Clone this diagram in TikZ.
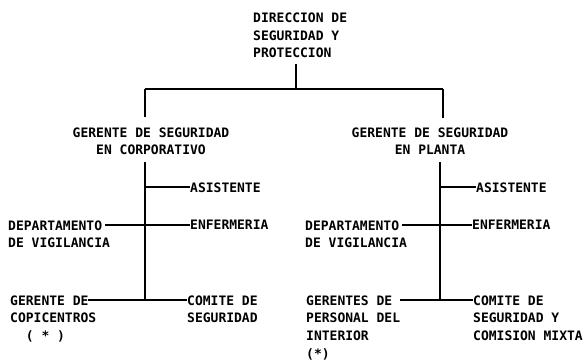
\documentclass[tikz,border=0pt]{standalone}
\usepackage{fontspec}
\setmonofont{DejaVu Sans Mono}
\usepackage{tikz}
\tikzstyle{none}=[inner sep=0pt]
\tikzstyle{label}=[inner sep=0pt,anchor=north west,align=left,font=\ttfamily\bfseries\fontsize{13}{17.7}\selectfont]
\tikzstyle{title}=[label,anchor=north,align=center]
\tikzstyle{simple}=[-,draw=black,line width=2.2pt]

\begin{document}
\begin{tikzpicture}[x=1pt,y=-1pt]
  \useasboundingbox (0,0) rectangle (585,363);
  \node [style=label] (0) at (253, 12.5) {DIRECCION DE\\SEGURIDAD Y\\PROTECCION};
  \node [style=title] (1) at (151, 127.3) {GERENTE DE SEGURIDAD\\EN CORPORATIVO};
  \node [style=title] (2) at (430, 127.3) {GERENTE DE SEGURIDAD\\EN PLANTA};
  \node [style=label] (3) at (190, 182.3) {ASISTENTE};
  \node [style=label] (4) at (190, 220.3) {ENFERMERIA};
  \node [style=label] (5) at (8, 220.3) {DEPARTAMENTO\\DE VIGILANCIA};
  \node [style=label] (6) at (10, 295.3) {GERENTE DE\\COPICENTROS\\\ \ ( * )};
  \node [style=label] (7) at (187, 295.3) {COMITE DE\\SEGURIDAD};
  \node [style=label] (8) at (476, 182.3) {ASISTENTE};
  \node [style=label] (9) at (472, 220.3) {ENFERMERIA};
  \node [style=label] (10) at (305, 220.3) {DEPARTAMENTO\\DE VIGILANCIA};
  \node [style=label] (11) at (306, 295.3) {GERENTES DE\\PERSONAL DEL\\INTERIOR\\(*)};
  \node [style=label] (12) at (473, 295.3) {COMITE DE\\SEGURIDAD Y\\COMISION MIXTA};
  \node [style=none] (13) at (296, 64) {};
  \node [style=none] (14) at (296, 89) {};
  \node [style=none] (15) at (145, 89) {};
  \node [style=none] (16) at (443, 89) {};
  \node [style=none] (17) at (145, 117) {};
  \node [style=none] (18) at (443, 118) {};
  \node [style=none] (19) at (145, 162) {};
  \node [style=none] (20) at (145, 300) {};
  \node [style=none] (21) at (145, 187) {};
  \node [style=none] (22) at (190, 187) {};
  \node [style=none] (23) at (105, 225) {};
  \node [style=none] (24) at (190, 225) {};
  \node [style=none] (25) at (88, 300) {};
  \node [style=none] (26) at (187, 300) {};
  \node [style=none] (27) at (440, 162) {};
  \node [style=none] (28) at (440, 300) {};
  \node [style=none] (29) at (440, 187) {};
  \node [style=none] (30) at (476, 187) {};
  \node [style=none] (31) at (402, 225) {};
  \node [style=none] (32) at (472, 225) {};
  \node [style=none] (33) at (400, 300) {};
  \node [style=none] (34) at (473, 300) {};
  \draw [style=simple] (13.center) to (14.center);
  \draw [style=simple] (15.center) to (16.center);
  \draw [style=simple] (15.center) to (17.center);
  \draw [style=simple] (16.center) to (18.center);
  \draw [style=simple] (19.center) to (20.center);
  \draw [style=simple] (21.center) to (22.center);
  \draw [style=simple] (23.center) to (24.center);
  \draw [style=simple] (25.center) to (26.center);
  \draw [style=simple] (27.center) to (28.center);
  \draw [style=simple] (29.center) to (30.center);
  \draw [style=simple] (31.center) to (32.center);
  \draw [style=simple] (33.center) to (34.center);
\end{tikzpicture}
\end{document}
